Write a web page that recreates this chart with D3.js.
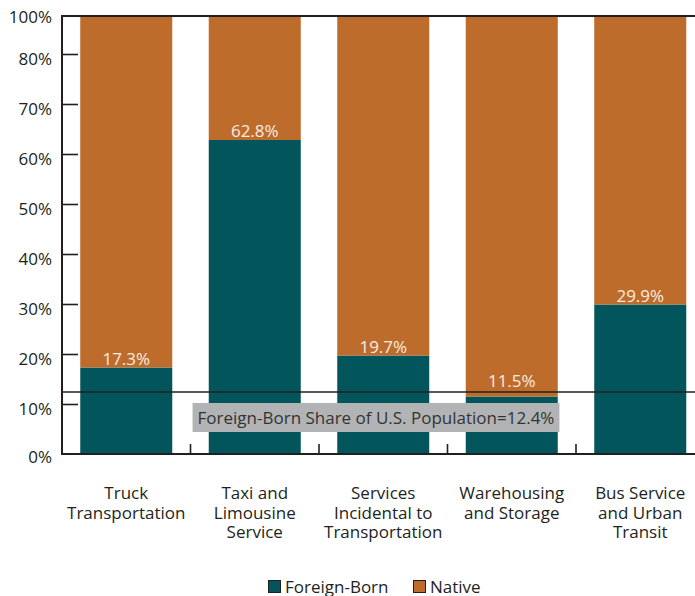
<!DOCTYPE html>
<html>
<head>
<meta charset="utf-8">
<script src="https://cdn.jsdelivr.net/npm/d3@7"></script>
<style>
  body { margin: 0; background: #fff; }
  text { font-family: "Open Sans", sans-serif; }
</style>
</head>
<body>
<div id="chart"></div>
<script>
// Data
const categories = ["Truck\nTransportation", "Taxi and\nLimousine\nService", "Services\nIncidental to\nTransportation", "Warehousing\nand Storage", "Bus Service\nand Urban\nTransit"];
const foreignBorn = [17.3, 62.8, 19.7, 11.5, 29.9];
const native = [82.7, 37.2, 80.3, 88.5, 70.1];
const seriesNames = ["Foreign-Born", "Native"];
const yTicks = [0, 10, 20, 30, 40, 50, 60, 70, 80];
const topLabel = "100%";
const usShare = 12.4;
const usShareLabel = "Foreign-Born Share of U.S. Population=12.4%";

const width = 695, height = 596;
const plotLeft = 62, plotTop = 16, plotBottom = 454;
const colors = { "Foreign-Born": "#02555a", "Native": "#be6c2c" };
const ink = "#231f20";
const fs = 17;

const svg = d3.select("#chart").append("svg")
  .attr("width", width)
  .attr("height", height);

// Scales (5px per percent, upper part cut off by the frame)
const x = d3.scaleBand()
  .domain(categories)
  .range([plotLeft, plotLeft + 5 * 128.5])
  .paddingInner(0.284)
  .paddingOuter(0.142);

const y = d3.scaleLinear()
  .domain([0, 100])
  .range([plotBottom, plotBottom - 500]);

const rows = categories.map((c, i) => ({ cat: c, "Foreign-Born": foreignBorn[i], "Native": native[i] }));
const stacked = d3.stack().keys(seriesNames)(rows);

svg.append("clipPath").attr("id", "plot")
  .append("rect")
  .attr("x", plotLeft).attr("y", plotTop)
  .attr("width", width - plotLeft).attr("height", plotBottom - plotTop);

// Bars
const bars = svg.append("g").attr("clip-path", "url(#plot)");
bars.selectAll("g")
  .data(stacked).enter()
  .append("g")
  .attr("fill", d => colors[d.key])
  .selectAll("rect")
  .data(d => d).enter()
  .append("rect")
  .attr("x", d => x(d.data.cat))
  .attr("y", d => y(d[1]))
  .attr("width", x.bandwidth())
  .attr("height", d => y(d[0]) - y(d[1]));

// Value labels (kept above the reference line)
svg.append("g")
  .selectAll("text")
  .data(rows).enter()
  .append("text")
  .attr("x", d => x(d.cat) + x.bandwidth() / 2)
  .attr("y", d => Math.min(y(d["Foreign-Born"]) - 3, y(usShare) - 5))
  .attr("text-anchor", "middle")
  .attr("font-size", fs)
  .attr("fill", "#f8ece0")
  .text(d => d["Foreign-Born"].toFixed(1) + "%");

// Reference line
svg.append("line")
  .attr("x1", plotLeft).attr("x2", width)
  .attr("y1", y(usShare)).attr("y2", y(usShare))
  .attr("stroke", ink).attr("stroke-width", 1.6);

const refLabel = svg.append("g");
const refText = refLabel.append("text")
  .attr("x", 376).attr("y", y(usShare) + 32)
  .attr("text-anchor", "middle")
  .attr("font-size", fs)
  .attr("fill", "#333")
  .text(usShareLabel);
const bb = refText.node().getBBox();
refLabel.insert("rect", "text")
  .attr("x", bb.x - 5).attr("y", y(usShare) + 11)
  .attr("width", bb.width + 10).attr("height", 29)
  .attr("fill", "#b2b3b5");

// Axes
svg.append("line")
  .attr("x1", plotLeft).attr("x2", width)
  .attr("y1", plotTop).attr("y2", plotTop)
  .attr("stroke", ink).attr("stroke-width", 2);

const yAxis = svg.append("g")
  .attr("transform", "translate(" + plotLeft + ",0)")
  .call(d3.axisRight(y).tickValues(yTicks.slice(1)).tickSize(16).tickFormat(""));
yAxis.select(".domain").remove();
yAxis.selectAll("line").attr("stroke", ink).attr("stroke-width", 1.6);

svg.append("line")
  .attr("x1", plotLeft).attr("x2", plotLeft)
  .attr("y1", plotTop - 1).attr("y2", plotBottom + 1)
  .attr("stroke", ink).attr("stroke-width", 2);

svg.append("g")
  .selectAll("text")
  .data(yTicks).enter()
  .append("text")
  .attr("x", 52)
  .attr("y", d => y(d) + (d === 0 ? 9 : 11))
  .attr("text-anchor", "end")
  .attr("font-size", fs)
  .attr("fill", ink)
  .text(d => d + "%");

svg.append("text")
  .attr("x", 52).attr("y", plotTop + 7)
  .attr("text-anchor", "end")
  .attr("font-size", fs)
  .attr("fill", ink)
  .text(topLabel);

svg.append("line")
  .attr("x1", plotLeft).attr("x2", width)
  .attr("y1", plotBottom).attr("y2", plotBottom)
  .attr("stroke", ink).attr("stroke-width", 2);

// Separators between categories
const step = x.step();
svg.append("g")
  .selectAll("line")
  .data(categories.slice(1)).enter()
  .append("line")
  .attr("x1", d => x(d) - (step - x.bandwidth()) / 2)
  .attr("x2", d => x(d) - (step - x.bandwidth()) / 2)
  .attr("y1", plotBottom - 10).attr("y2", plotBottom)
  .attr("stroke", ink).attr("stroke-width", 1.6);

// Category labels
svg.append("g")
  .selectAll("text")
  .data(categories).enter()
  .append("text")
  .attr("text-anchor", "middle")
  .attr("font-size", fs)
  .attr("fill", ink)
  .each(function (d) {
    const t = d3.select(this);
    d.split("\n").forEach((line, i) => {
      t.append("tspan")
        .attr("x", x(d) + x.bandwidth() / 2)
        .attr("y", 499 + i * 19.5)
        .text(line);
    });
  });

// Legend
const legend = svg.append("g").attr("transform", "translate(268,580)");
const legendX = [0, 145];
seriesNames.forEach((name, i) => {
  legend.append("rect")
    .attr("x", legendX[i] + 0.5).attr("y", 0.5)
    .attr("width", 12).attr("height", 12)
    .attr("fill", colors[name])
    .attr("stroke", ink).attr("stroke-width", 1);
  legend.append("text")
    .attr("x", legendX[i] + 17).attr("y", 12.5)
    .attr("font-size", fs)
    .attr("fill", ink)
    .text(name);
});
</script>
</body>
</html>
